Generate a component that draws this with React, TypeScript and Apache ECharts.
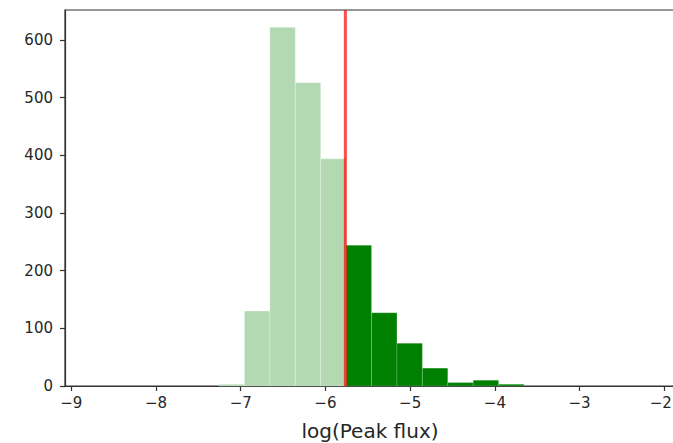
import React, { useEffect, useRef } from "react";
import * as echarts from "echarts";

// Histogram below the threshold (light) — bin edges and counts
const lightEdges = [-7.256, -6.956, -6.656, -6.356, -6.056, -5.756];
const lightCounts = [3, 130, 622, 526, 394];
// Histogram above the threshold (dark)
const darkEdges = [-5.756, -5.456, -5.156, -4.856, -4.556, -4.256, -3.956, -3.656];
const darkCounts = [244, 127, 74, 31, 6, 10, 3];
// Threshold line
const threshold = -5.765;
// Ticks
const xTicks = [-9, -8, -7, -6, -5, -4, -3, -2];
const yTicks = [0, 100, 200, 300, 400, 500, 600];
const xLabel = "log(Peak flux)";

const FONT = "DejaVu Sans";

function binData(edges: number[], counts: number[]) {
  return counts.map((c, i) => [edges[i], edges[i + 1], c]);
}

function histSeries(edges: number[], counts: number[], fill: string, stroke: string) {
  return {
    type: "custom",
    data: binData(edges, counts),
    encode: { x: [0, 1], y: 2 },
    renderItem: (params: any, api: any) => {
      const x0 = api.value(0);
      const x1 = api.value(1);
      const y = api.value(2);
      const p0 = api.coord([x0, y]);
      const p1 = api.coord([x1, 0]);
      return {
        type: "rect",
        shape: { x: p0[0], y: p0[1], width: p1[0] - p0[0], height: p1[1] - p0[1] },
        style: { fill, stroke, lineWidth: 0.6 },
      };
    },
    z: 2,
  };
}

export default function App() {
  const ref = useRef<HTMLDivElement>(null);
  useEffect(() => {
    if (!ref.current) return;
    const chart = echarts.init(ref.current, undefined, { renderer: "svg" });
    const axisColor = "#333";
    const labelColor = "#262626";
    const lastTick = xTicks[xTicks.length - 1];
    chart.setOption({
      animation: false,
      backgroundColor: "#ffffff",
      grid: {
        left: 65,
        top: 10,
        width: 610,
        height: 376,
        outerBoundsMode: "none",
        containLabel: false,
        show: true,
        borderColor: axisColor,
        borderWidth: 1.2,
        backgroundColor: "transparent",
      },
      xAxis: {
        type: "value",
        min: -9.074,
        max: -1.874,
        name: xLabel,
        nameLocation: "middle",
        nameGap: 35,
        nameTextStyle: { fontFamily: FONT, fontSize: 20, color: labelColor },
        axisLine: { show: true, lineStyle: { color: axisColor, width: 1.2 } },
        axisTick: { show: true, length: 5, customValues: xTicks, lineStyle: { color: axisColor, width: 1.2 } },
        axisLabel: {
          customValues: xTicks,
          margin: 9,
          fontFamily: FONT,
          fontSize: 15,
          color: labelColor,
          formatter: (v: number) => {
            const s = String(v).replace("-", "\u2212");
            return v === lastTick ? "{edge|" + s + "}" : s;
          },
          rich: {
            edge: { fontFamily: FONT, fontSize: 15, color: labelColor, padding: [0, 7, 0, 0] },
          },
        },
        splitLine: { show: false },
      },
      yAxis: {
        type: "value",
        min: 0,
        max: 652,
        axisLine: { show: true, lineStyle: { color: axisColor, width: 1.2 } },
        axisTick: { show: true, length: 5, customValues: yTicks, lineStyle: { color: axisColor, width: 1.2 } },
        axisLabel: {
          customValues: yTicks,
          margin: 12,
          fontFamily: FONT,
          fontSize: 15,
          color: labelColor,
        },
        splitLine: { show: false },
      },
      series: [
        histSeries(lightEdges, lightCounts, "#b3d9b3", "rgba(255,255,255,0.45)"),
        histSeries(darkEdges, darkCounts, "#008000", "rgba(255,255,255,0.3)"),
        {
          type: "line",
          data: [
            [threshold, 0],
            [threshold, 652],
          ],
          symbol: "none",
          lineStyle: { color: "#ff0000", opacity: 0.7, width: 3 },
          z: 5,
        },
      ],
    });
    return () => chart.dispose();
  }, []);
  return (
    <div
      ref={ref}
      style={{ position: "fixed", left: 0, top: 0, width: 673, height: 443, overflow: "hidden" }}
    />
  );
}
